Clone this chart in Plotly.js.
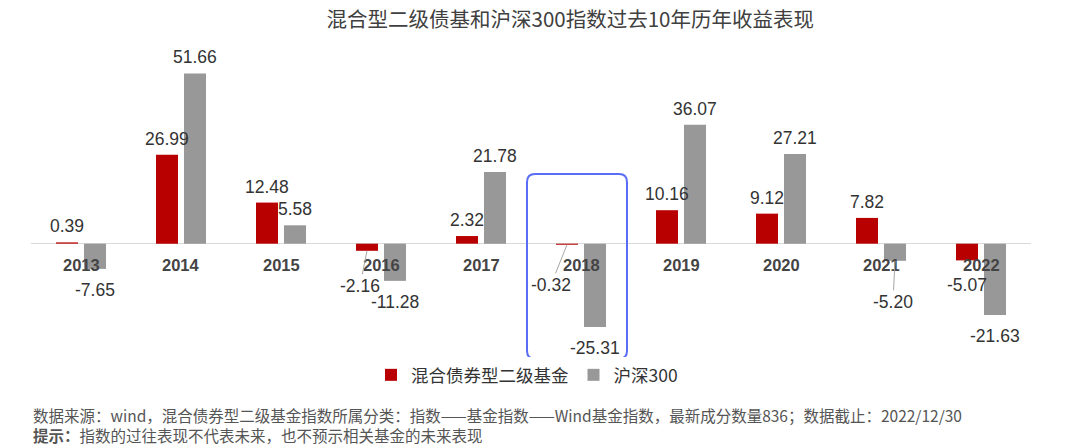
<!DOCTYPE html>
<html>
<head>
<meta charset="utf-8">
<script src="https://cdn.plot.ly/plotly-3.0.1.min.js"></script>
<style>html,body{margin:0;padding:0;background:#fff;}#chart{width:1080px;height:448px;}</style>
</head>
<body>
<div id="chart"></div>
<script>
const years = ['2013','2014','2015','2016','2017','2018','2019','2020','2021','2022'];
const bondFund = [0.39, 26.99, 12.48, -2.16, 2.32, -0.32, 10.16, 9.12, 7.82, -5.07];
const csi300 = [-7.65, 51.66, 5.58, -11.28, 21.78, -25.31, 36.07, 27.21, -5.20, -21.63];
const seriesNames = ['混合债券型二级基金', '沪深300'];
const seriesColors = ['#B80000', '#989898'];
const highlightYear = '2018';

const numFont = 'Liberation Sans, Arial, sans-serif';
const cjkFont = 'Noto Sans CJK SC, sans-serif';
const fmt = v => v.toFixed(2);

// style: label nudges (pixels) for labels moved off the year labels, drawn with leader lines
const leaderNudges = {
  '0-2016': {ax:-7, ay:35},
  '0-2018': {ax:-16, ay:40},
  '1-2021': {ax:-2, ay:41}
};
// style: extra vertical gap (pixels) for labels without leader lines
const extraGap = {'0-2022': 4};

const traces = [bondFund, csi300].map((vals, s) => ({
  type:'bar', name: seriesNames[s], x: years, y: vals,
  marker:{color: seriesColors[s]}, hoverinfo:'skip'
}));

const annotations = [];
// category labels sitting on the zero line
years.forEach((y, i) => annotations.push({
  x: i, y: 0, xref:'x', yref:'y', text: y, showarrow:false,
  yanchor:'middle', yshift:-21,
  font:{family:numFont, size:16.5, color:'#444444', weight:'bold'}
}));
// data labels
[bondFund, csi300].forEach((vals, s) => {
  const xs = s === 0 ? -14 : 14;
  vals.forEach((v, i) => {
    const key = s + '-' + years[i];
    const base = {x: i, y: v, xref:'x', yref:'y', text: fmt(v), xshift: xs,
      font:{family:numFont, size:17.5, color:'#333333'}};
    if (leaderNudges[key]) {
      annotations.push(Object.assign(base, {showarrow:true, arrowhead:0, arrowwidth:1,
        arrowcolor:'#A6A6A6', standoff:0, ax: leaderNudges[key].ax, ay: leaderNudges[key].ay}));
    } else {
      const g = extraGap[key] || 0;
      annotations.push(Object.assign(base, {showarrow:false, yanchor:'middle',
        yshift: v >= 0 ? 16 + g : -21 - g}));
    }
  });
});
annotations.push({
  xref:'paper', yref:'paper', x:0, y:-0.179, xanchor:'left', yanchor:'middle', showarrow:false,
  text:'数据来源：wind，混合债券型二级基金指数所属分类：指数——基金指数——Wind基金指数，最新成分数量836；数据截止：2022/12/30',
  font:{family:cjkFont, size:15.5, color:'#555555'}
});
annotations.push({
  xref:'paper', yref:'paper', x:0, y:-0.243, xanchor:'left', yanchor:'middle', showarrow:false,
  text:'<b>提示：</b>指数的过往表现不代表未来，也不预示相关基金的未来表现',
  font:{family:cjkFont, size:15.5, color:'#555555'}
});

// highlight box around a category (paper coords from category index)
const idx = years.indexOf(highlightYear);
const cx = (idx + 0.5) / years.length;
const x0 = cx - 0.054, x1 = cx + 0.046;
const y0 = 0.0, y1 = 0.591, rx = 0.008, ry = 0.026;
const boxPath = `M ${x0+rx},${y0} L ${x1-rx},${y0} Q ${x1},${y0} ${x1},${y0+ry} L ${x1},${y1-ry} Q ${x1},${y1} ${x1-rx},${y1} L ${x0+rx},${y1} Q ${x0},${y1} ${x0},${y1-ry} L ${x0},${y0+ry} Q ${x0},${y0} ${x0+rx},${y0} Z`;

const layout = {
  width:1080, height:448,
  margin:{l:31, r:49, t:46, b:89},
  paper_bgcolor:'#ffffff', plot_bgcolor:'#ffffff',
  title:{text:'混合型二级债基和沪深300指数过去10年历年收益表现', x:0.528, xref:'container', xanchor:'center',
         y:0.955, yref:'container', yanchor:'middle',
         font:{family:cjkFont, size:20.5, color:'#404040'}},
  barmode:'group', bargap:0.44, bargroupgap:0.214,
  xaxis:{type:'category', range:[-0.5, 9.5], showticklabels:false, showgrid:false, showline:false, zeroline:false, ticks:''},
  yaxis:{range:[-35, 60], showticklabels:false, showgrid:false, showline:false,
         zeroline:true, zerolinecolor:'#D9D9D9', zerolinewidth:1.5, ticks:''},
  showlegend:true,
  legend:{orientation:'h', x:0.496, xanchor:'center', y:-0.051, yanchor:'middle',
          font:{family:cjkFont, size:17.5, color:'#333333'}, traceorder:'normal', itemwidth:30},
  annotations: annotations,
  shapes:[{type:'path', xref:'paper', yref:'paper', path: boxPath,
           line:{color:'#5A6DF5', width:2}, fillcolor:'rgba(0,0,0,0)'}]
};

Plotly.newPlot('chart', traces, layout, {staticPlot:true, displayModeBar:false});
</script>
</body>
</html>
